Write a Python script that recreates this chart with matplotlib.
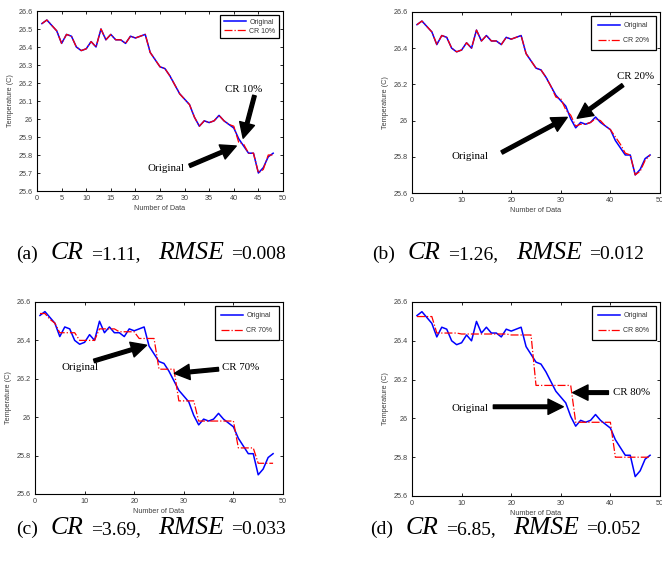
import numpy as np
import matplotlib
matplotlib.use("Agg")
import matplotlib.pyplot as plt

# temperature samples (index 1..48)
original = [26.53, 26.55, 26.52, 26.49, 26.42, 26.47, 26.46, 26.40, 26.38, 26.39,
            26.43, 26.40, 26.50, 26.44, 26.47, 26.44, 26.44, 26.42, 26.46, 26.45,
            26.46, 26.47, 26.37, 26.33, 26.29, 26.28, 26.24, 26.19, 26.14, 26.11,
            26.08, 26.01, 25.96, 25.99, 25.98, 25.99, 26.02, 25.99, 25.97, 25.95,
            25.89, 25.85, 25.81, 25.81, 25.70, 25.73, 25.79, 25.81]

cr10 = [26.53, 26.55, 26.52, 26.49, 26.42, 26.47, 26.46, 26.40, 26.38, 26.39,
        26.43, 26.40, 26.50, 26.44, 26.47, 26.44, 26.44, 26.42, 26.46, 26.45,
        26.46, 26.47, 26.37, 26.33, 26.29, 26.28, 26.24, 26.19, 26.14, 26.11,
        26.08, 26.01, 25.96, 25.99, 25.98, 25.99, 26.02, 25.99, 25.97, 25.96,
        25.87, 25.86, 25.81, 25.81, 25.70, 25.72, 25.80, 25.80]

cr20 = [26.53, 26.55, 26.52, 26.49, 26.42, 26.47, 26.46, 26.40, 26.38, 26.39,
        26.43, 26.40, 26.50, 26.44, 26.47, 26.44, 26.44, 26.42, 26.46, 26.45,
        26.46, 26.47, 26.37, 26.33, 26.29, 26.28, 26.24, 26.19, 26.13, 26.12,
        26.06, 26.03, 25.97, 25.98, 25.98, 25.99, 26.01, 26.00, 25.97, 25.95,
        25.91, 25.87, 25.82, 25.81, 25.70, 25.72, 25.78, 25.81]

cr70 = [26.54, 26.54, 26.51, 26.49, 26.44, 26.44, 26.44, 26.44, 26.40, 26.40,
        26.40, 26.40, 26.46, 26.46, 26.46, 26.46, 26.445, 26.445, 26.445, 26.445,
        26.41, 26.41, 26.41, 26.41, 26.25, 26.25, 26.25, 26.25, 26.085, 26.085,
        26.085, 26.085, 25.98, 25.98, 25.98, 25.98, 25.98, 25.98, 25.98, 25.98,
        25.84, 25.84, 25.84, 25.84, 25.76, 25.76, 25.76, 25.76]

cr80 = [26.525, 26.525, 26.525, 26.525, 26.44, 26.44, 26.44, 26.44, 26.44, 26.435,
        26.435, 26.435, 26.435, 26.435, 26.435, 26.435, 26.435, 26.435, 26.435, 26.43,
        26.43, 26.43, 26.43, 26.43, 26.17, 26.17, 26.17, 26.17, 26.17, 26.17,
        26.17, 26.17, 25.98, 25.98, 25.98, 25.98, 25.98, 25.98, 25.98, 25.98,
        25.80, 25.80, 25.80, 25.80, 25.80, 25.80, 25.80, 25.80]

n_data = np.arange(1, len(original) + 1)

W, H = 662, 571
fig = plt.figure(figsize=(W / 100, H / 100), dpi=100)

serif = 'Liberation Serif'
sans = 'Liberation Sans'


def px_axes(l, t, r, b):
    return fig.add_axes([l / W, 1 - b / H, (r - l) / W, (b - t) / H])


def panel(ax, approx, lab, yticks, xticks, legend_small=False):
    ax.plot(n_data, original, color='#0000ff', lw=1.1, label='Original')
    ax.plot(n_data, approx, color='red', lw=0.9, ls='-.', label=lab)
    ax.set_xlim(0, 50)
    ax.set_ylim(25.6, 26.6)
    ax.set_xticks(xticks)
    ax.set_yticks(yticks)
    ax.set_xticklabels([('%g' % v) for v in xticks])
    ax.set_yticklabels([('%g' % v) for v in yticks])
    ax.tick_params(direction='in', top=True, right=True, length=2.5, width=0.6,
                   labelsize=5.2, labelcolor='#404040', pad=3)
    for lbl in ax.get_xticklabels() + ax.get_yticklabels():
        lbl.set_family(sans)
    for sp in ax.spines.values():
        sp.set_linewidth(0.8)
    ax.set_xlabel('Number of Data', fontsize=5.2, family=sans, color='#404040', labelpad=2)
    ax.set_ylabel('Temperature (C)', fontsize=5.2, family=sans, color='#404040', labelpad=3)
    leg = ax.legend(loc='upper right', prop={'family': sans, 'size': 5},
                    fancybox=False, framealpha=1, edgecolor='black',
                    handlelength=3.2, borderpad=0.5 if legend_small else 0.9,
                    labelspacing=0.3 if legend_small else 1.1,
                    borderaxespad=0.6, handletextpad=0.5)
    leg.get_frame().set_linewidth(0.9)
    for t in leg.get_texts():
        t.set_color('#333333')


arrow = dict(facecolor='black', edgecolor='black', width=2.6, headwidth=11,
             headlength=11, shrink=0)


def note(ax, txt, tip, tail, pos):
    ax.annotate('', xy=tip, xytext=tail, arrowprops=arrow)
    ax.text(pos[0], pos[1], txt, family=serif, fontsize=7.8, ha='center', va='center')


# (a)
ax_a = px_axes(37, 11, 283, 191)
panel(ax_a, cr10, 'CR 10%', np.round(np.arange(25.6, 26.61, 0.1), 1), np.arange(0, 51, 5),
      legend_small=True)
note(ax_a, 'CR 10%', (41.9, 25.893), (44.2, 26.13), (41.9, 26.165))
note(ax_a, 'Original', (40.5, 25.85), (31.0, 25.74), (26.3, 25.725))

# (b)
ax_b = px_axes(412, 12, 660, 193)
panel(ax_b, cr20, 'CR 20%', [25.6, 25.8, 26.0, 26.2, 26.4, 26.6], np.arange(0, 51, 10))
note(ax_b, 'CR 20%', (33.3, 26.013), (42.5, 26.196), (45.1, 26.246))
note(ax_b, 'Original', (31.3, 26.018), (18.1, 25.824), (11.7, 25.80))

# (c)
ax_c = px_axes(35, 302, 283, 494)
panel(ax_c, cr70, 'CR 70%', [25.6, 25.8, 26.0, 26.2, 26.4, 26.6], np.arange(0, 51, 10))
note(ax_c, 'Original', (22.5, 26.375), (11.9, 26.293), (9.1, 26.257))
note(ax_c, 'CR 70%', (28.1, 26.228), (37.0, 26.25), (41.4, 26.257))

# (d)
ax_d = px_axes(412, 302, 660, 496)
panel(ax_d, cr80, 'CR 80%', [25.6, 25.8, 26.0, 26.2, 26.4, 26.6], np.arange(0, 51, 10))
note(ax_d, 'CR 80%', (32.4, 26.133), (39.6, 26.133), (44.3, 26.133))
note(ax_d, 'Original', (30.5, 26.06), (16.4, 26.06), (11.7, 26.05))

# captions: regular text mixed with bigger italic symbols
fig.canvas.draw()
rend = fig.canvas.get_renderer()


def caption(x0, ybase, tag, cr, rmse):
    parts = [(tag, 14, 'normal', 13),
             ('CR', 18.5, 'italic', 7),
             ('=' + cr + ',', 14, 'normal', 18),
             ('RMSE', 18.5, 'italic', 7),
             ('=' + rmse, 14, 'normal', 0)]
    x = x0
    for s, size, style, gap in parts:
        t = fig.text(x / W, 1 - ybase / H, s, fontsize=size, style=style,
                     family=serif, ha='left', va='baseline')
        x += t.get_window_extent(rend).width + gap


caption(16, 259, '(a)', '1.11', '0.008')
caption(372, 259, '(b)', '1.26', '0.012')
caption(16, 534, '(c)', '3.69', '0.033')
caption(370, 534, '(d)', '6.85', '0.052')

fig.savefig('out.png', dpi=100)
